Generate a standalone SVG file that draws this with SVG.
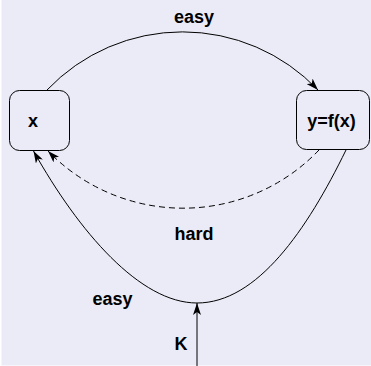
<svg xmlns="http://www.w3.org/2000/svg" width="371" height="366" viewBox="0 0 371 366">
<style>
.bg{fill:#EBEBF7}
.box{fill:none;stroke:#000;stroke-width:1}
.edge{fill:none;stroke:#000;stroke-width:1}
.dash{stroke-dasharray:6,4}
text{font-family:"Liberation Sans",Arial,sans-serif;font-weight:bold;font-size:18px;fill:#000;text-anchor:middle}
</style>
<defs>
<marker id="ah" markerUnits="userSpaceOnUse" viewBox="0 0 12 8" refX="12" refY="4" markerWidth="12" markerHeight="8" orient="auto">
<path d="M0,0 L12,4 L0,8 L3,4 z" fill="#000"/>
</marker>
</defs>
<rect x="0" y="0" width="371" height="366" fill="#FFFFFF"/>
<rect class="bg" x="1.5" y="0" width="369.5" height="365.5"/>
<g id="connectors">
<path class="edge" d="M47,90 A187,187 0 0 1 318,90" marker-end="url(#ah)"/>
<path class="edge dash" d="M319,150 A188,188 0 0 1 48,151" marker-end="url(#ah)"/>
<path class="edge" d="M346,150 C307,230 257,303 197,303 C140,303 79,232 33.5,151" marker-end="url(#ah)"/>
<path class="edge" d="M197,366 L197,303" marker-end="url(#ah)"/>
<text x="194" y="23">easy</text>
<text x="194" y="240">hard</text>
<text x="112.5" y="305">easy</text>
<text x="181" y="350">K</text>
</g>
<g id="node-x">
<rect class="box" x="9.5" y="90.5" width="60" height="60" rx="10"/>
<text x="33" y="127">x</text>
</g>
<g id="node-y">
<rect class="box" x="296.5" y="90.5" width="73" height="59" rx="10"/>
<text x="331.5" y="127">y=f(x)</text>
</g>
</svg>
